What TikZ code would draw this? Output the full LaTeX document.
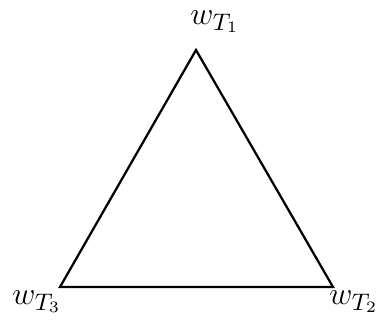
\documentclass[tikz,border=0pt]{standalone}
\usepackage{tikz}
\usetikzlibrary{positioning}

\begin{document}
\begin{tikzpicture}[x=0.013228cm,y=-0.013228cm,
    edge/.style={draw=black,line width=0.85pt,line join=miter},
    vlabel/.style={inner sep=0pt,font=\fontsize{13}{16}\selectfont}]
\useasboundingbox (0,0) rectangle (378,322);
% vertices
\coordinate (t1) at (196,50);
\coordinate (t2) at (333,287);
\coordinate (t3) at (60,287);
% labels
\node[vlabel] (l1) at (215,22) {$w_{T_1}$};
\node[vlabel] (l2) at (354,302) {$w_{T_2}$};
\node[vlabel] (l3) at (37,302) {$w_{T_3}$};
% triangle
\draw[edge] (t1) -- (t2) -- (t3) -- cycle;
\end{tikzpicture}
\end{document}
